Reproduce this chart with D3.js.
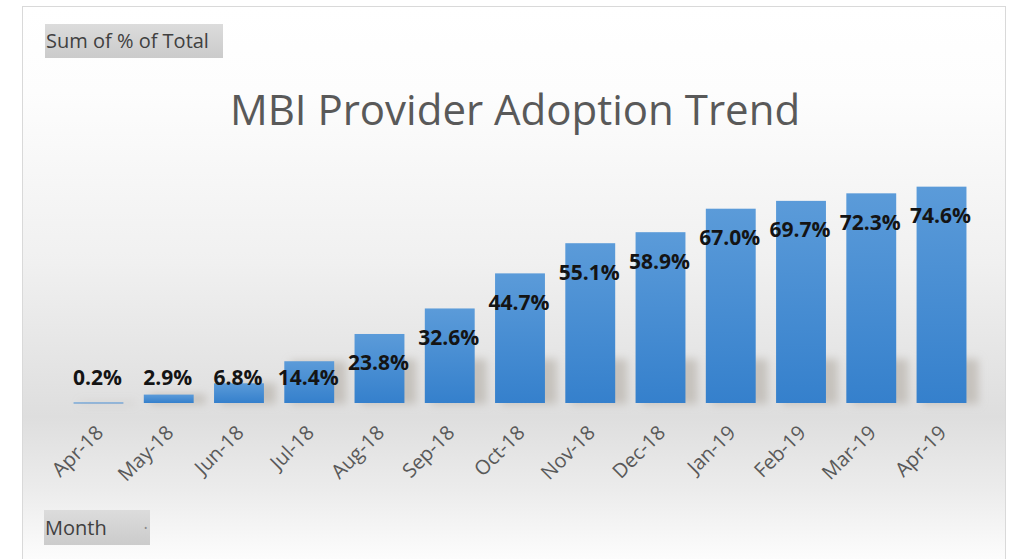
<!DOCTYPE html>
<html>
<head>
<meta charset="utf-8">
<script src="https://cdn.jsdelivr.net/npm/d3@7"></script>
<style>
  body { margin: 0; background: #fff; }
  svg { display: block; }
</style>
</head>
<body>
<svg id="chart" width="1011" height="559"></svg>
<script>
// chart data
var months = ["Apr-18", "May-18", "Jun-18", "Jul-18", "Aug-18", "Sep-18", "Oct-18",
              "Nov-18", "Dec-18", "Jan-19", "Feb-19", "Mar-19", "Apr-19"];
var pctValues = [0.2, 2.9, 6.8, 14.4, 23.8, 32.6, 44.7, 55.1, 58.9, 67.0, 69.7, 72.3, 74.6];

var titleText = "MBI Provider Adoption Trend";
var valueButton = "Sum of % of Total";
var axisButton = "Month";

var svg = d3.select("#chart"),
    W = 1011, H = 559,
    baseY = 403,
    font = "'Open Sans', 'Noto Sans', sans-serif";

var defs = svg.append("defs");

// background gradient of the chart area
var bg = defs.append("linearGradient").attr("id", "bgGrad")
    .attr("x1", 0).attr("y1", 0).attr("x2", 0).attr("y2", 1);
[[0, "#ffffff"], [0.15, "#fdfdfd"], [0.45, "#f0f0f0"], [0.72, "#dedede"],
 [0.85, "#ececec"], [0.96, "#fbfbfb"], [1, "#ffffff"]].forEach(function(s) {
    bg.append("stop").attr("offset", s[0]).attr("stop-color", s[1]);
});

// bar fill
var barGrad = defs.append("linearGradient").attr("id", "barGrad")
    .attr("x1", 0).attr("y1", 0).attr("x2", 0).attr("y2", 1);
barGrad.append("stop").attr("offset", 0).attr("stop-color", "#5b9bd9");
barGrad.append("stop").attr("offset", 1).attr("stop-color", "#3580cc");

// button fill
var btnGrad = defs.append("linearGradient").attr("id", "btnGrad")
    .attr("x1", 0).attr("y1", 0).attr("x2", 0).attr("y2", 1);
btnGrad.append("stop").attr("offset", 0).attr("stop-color", "#dcdcdc");
btnGrad.append("stop").attr("offset", 1).attr("stop-color", "#cbcbcb");

// soft shadow filter behind bars
var blur = defs.append("filter").attr("id", "soft")
    .attr("x", "-10%").attr("y", "-50%").attr("width", "120%").attr("height", "200%");
blur.append("feGaussianBlur").attr("stdDeviation", 4);

// frame
svg.append("rect")
    .attr("x", 22.5).attr("y", 6.5)
    .attr("width", 983).attr("height", 570)
    .attr("fill", "url(#bgGrad)")
    .attr("stroke", "#d9d9d9");

// scales
var x = d3.scaleBand()
    .domain(months)
    .range([63, 977])
    .paddingInner(0.29)
    .paddingOuter(0.15);

var y = d3.scaleLinear()
    .domain([0, 100])
    .range([baseY, baseY - 290]);

// shadow band behind bars
svg.append("g").attr("filter", "url(#soft)")
  .selectAll("rect.shadow")
    .data(pctValues)
    .enter().append("rect")
    .attr("class", "shadow")
    .attr("x", function(d, i) { return x(months[i]) + 6; })
    .attr("y", function(d) { return Math.max(y(d), baseY - 44); })
    .attr("width", x.bandwidth() + 6)
    .attr("height", function(d) { return baseY - Math.max(y(d), baseY - 44) + 1; })
    .attr("fill", "#b3aca4")
    .attr("opacity", 0.6);

// bars
svg.selectAll("rect.bar")
    .data(pctValues)
    .enter().append("rect")
    .attr("class", "bar")
    .attr("x", function(d, i) { return x(months[i]); })
    .attr("y", function(d) { return y(d); })
    .attr("width", x.bandwidth())
    .attr("height", function(d) { return Math.max(1, baseY - y(d)); })
    .attr("fill", "url(#barGrad)");

// data labels
svg.selectAll("text.lbl")
    .data(pctValues)
    .enter().append("text")
    .attr("class", "lbl")
    .attr("x", function(d, i) { return x(months[i]) + x.bandwidth() / 2 - 1; })
    .attr("y", function(d) { return Math.min(y(d) + 29, 378); })
    .attr("dy", "0.35em")
    .attr("text-anchor", "middle")
    .attr("font-family", font)
    .attr("font-weight", "bold")
    .attr("font-size", "21px")
    .attr("fill", "#141414")
    .text(function(d) { return d.toFixed(1) + "%"; });

// x axis labels rotated
var xAxis = d3.axisBottom(x).tickSize(0).tickPadding(0);
var gx = svg.append("g")
    .attr("transform", "translate(0," + baseY + ")")
    .call(xAxis);
gx.select(".domain").remove();
gx.selectAll(".tick text")
    .attr("font-family", font)
    .attr("font-size", "20px")
    .attr("fill", "#595959")
    .attr("text-anchor", "end")
    .attr("y", 0)
    .attr("dy", null)
    .attr("transform", "translate(6,31) rotate(-45)");

// title
svg.append("text")
    .attr("x", 515).attr("y", 110)
    .attr("dy", "0.35em")
    .attr("text-anchor", "middle")
    .attr("font-family", font)
    .attr("font-size", "42px")
    .attr("fill", "#595959")
    .text(titleText);

// pivot field buttons
function fieldButton(bx, by, bw, bh, label, arrow) {
    var g = svg.append("g");
    g.append("rect")
        .attr("x", bx).attr("y", by).attr("width", bw).attr("height", bh)
        .attr("fill", "url(#btnGrad)");
    g.append("text")
        .attr("x", bx + 1).attr("y", by + bh / 2)
        .attr("dy", "0.35em")
        .attr("font-family", font)
        .attr("font-size", "20px")
        .attr("fill", "#404040")
        .text(label);
    if (arrow) {
        g.append("text")
            .attr("x", bx + bw - 6).attr("y", by + bh / 2)
            .attr("dy", "0.35em")
            .attr("font-family", font)
            .attr("font-size", "9px")
            .attr("fill", "#888")
            .text("\u2022");
    }
}
fieldButton(45, 24, 178, 34, valueButton, false);
fieldButton(44, 510, 106, 35, axisButton, true);
</script>
</body>
</html>
